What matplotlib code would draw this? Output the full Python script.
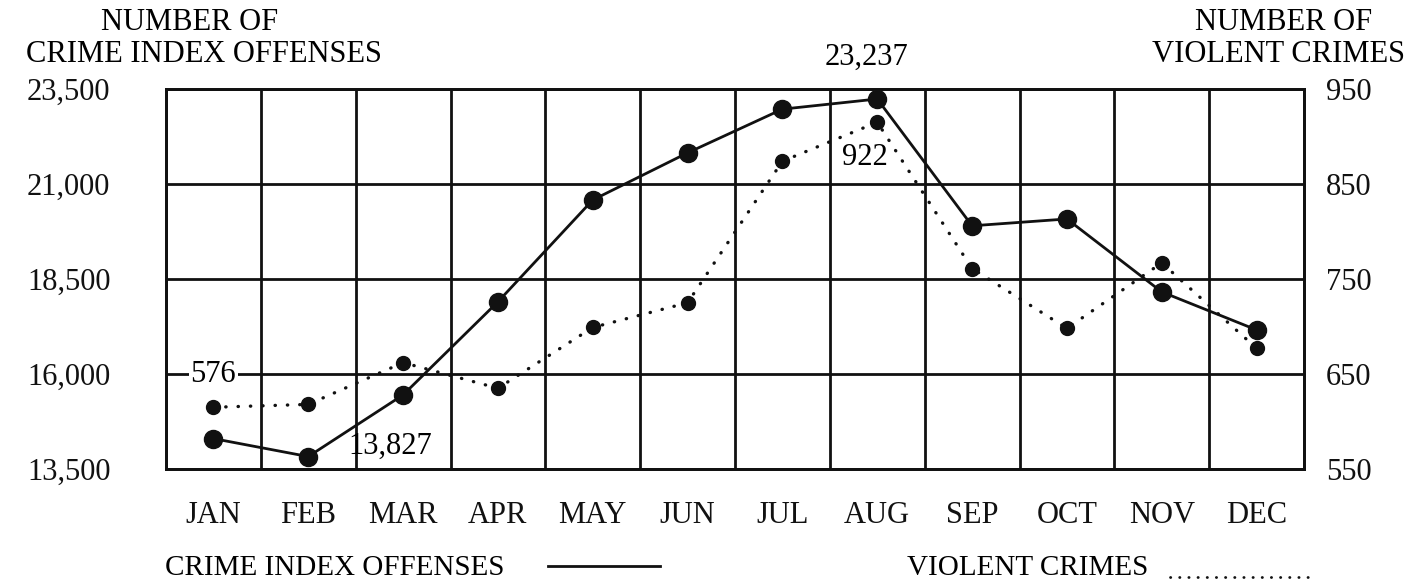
import matplotlib.pyplot as plt
from matplotlib.lines import Line2D

plt.rcParams['font.family'] = ['Liberation Serif', 'DejaVu Serif']

months = ['JAN', 'FEB', 'MAR', 'APR', 'MAY', 'JUN',
          'JUL', 'AUG', 'SEP', 'OCT', 'NOV', 'DEC']
crime_index = [14300, 13827, 15450, 17900, 20580, 21820,
               22970, 23237, 19900, 20080, 18160, 17160]
violent = [615, 618, 662, 635, 699, 725, 874, 915, 761, 698, 767, 677]

left_ticks = [13500, 16000, 18500, 21000, 23500]
right_ticks = [550, 650, 750, 850, 950]

W, H = 1409, 587
INK = '#111111'
FS = 22

fig = plt.figure(figsize=(W / 100, H / 100), dpi=100)
ax = fig.add_axes([166 / W, 1 - 469 / H, (1304 - 166) / W, (469 - 89) / H])
ax2 = ax.twinx()

x = [i + 0.5 for i in range(len(months))]

# grid: 12 columns, rows at each tick
ax.set_xlim(0, 12)
ax.set_ylim(left_ticks[0], left_ticks[-1])
ax2.set_ylim(right_ticks[0], right_ticks[-1])
for v in range(13):
    ax.axvline(v, color=INK, lw=2, zorder=1)
for t in left_ticks:
    ax.axhline(t, color=INK, lw=2, zorder=1)
for a in (ax, ax2):
    for s in a.spines.values():
        s.set_linewidth(2)
        s.set_color(INK)

ax.set_xticks(x)
ax.set_xticklabels(months, fontsize=FS)
ax.set_yticks(left_ticks)
ax.set_yticklabels([f'{t:,}' for t in left_ticks], fontsize=FS)
ax2.set_yticks(right_ticks)
ax2.set_yticklabels([str(t) for t in right_ticks], fontsize=FS)
ax.tick_params(axis='x', length=0, pad=23, colors=INK)
ax.tick_params(axis='y', length=0, pad=40, colors=INK)
ax2.tick_params(axis='y', length=0, pad=16, colors=INK)

# series
ax.plot(x, crime_index, color=INK, lw=2, marker='o', ms=13, zorder=4)
ax2.plot(x, violent, color=INK, lw=2.4, ls=(0, (0.1, 3.6)),
         dash_capstyle='round', zorder=3)
ax2.plot(x, violent, color=INK, ls='None', marker='o', ms=10, zorder=4)

# value labels
ax.annotate('13,827', xy=(x[1], crime_index[1]), xytext=(82, 10),
            textcoords='offset pixels', ha='center', va='center', fontsize=FS)
ax.annotate('23,237', xy=(x[7], crime_index[7]), xytext=(-11, 42),
            textcoords='offset pixels', ha='center', va='center', fontsize=FS,
            annotation_clip=False)
ax2.annotate('922', xy=(x[7], violent[7]), xytext=(-12, -35),
             textcoords='offset pixels', ha='center', va='center', fontsize=FS)
ax.text(x[0], left_ticks[1], '576', ha='center', va='center', fontsize=FS,
        zorder=5, bbox=dict(facecolor='white', edgecolor='none', pad=1))

# axis titles
fig.text(190 / W, 1 - 23 / H, 'NUMBER OF', ha='center', va='center', fontsize=FS)
fig.text(204 / W, 1 - 54 / H, 'CRIME INDEX OFFENSES', ha='center', va='center', fontsize=FS)
fig.text(1284 / W, 1 - 23 / H, 'NUMBER OF', ha='center', va='center', fontsize=FS)
fig.text(1278 / W, 1 - 54 / H, 'VIOLENT CRIMES', ha='center', va='center', fontsize=FS)

# legend along the bottom
fig.text(165 / W, 1 - 568 / H, 'CRIME INDEX OFFENSES', ha='left', va='center', fontsize=21)
fig.add_artist(Line2D([548 / W, 660 / W], [1 - 566 / H, 1 - 566 / H],
                      color=INK, lw=2, transform=fig.transFigure))
fig.text(907 / W, 1 - 568 / H, 'VIOLENT CRIMES', ha='left', va='center', fontsize=21)
fig.add_artist(Line2D([1170 / W, 1309 / W], [1 - 577 / H, 1 - 577 / H],
                      color=INK, lw=2, ls=(0, (0.1, 3.2)), dash_capstyle='round',
                      transform=fig.transFigure))

fig.savefig('out.png', dpi=100, facecolor='white')
